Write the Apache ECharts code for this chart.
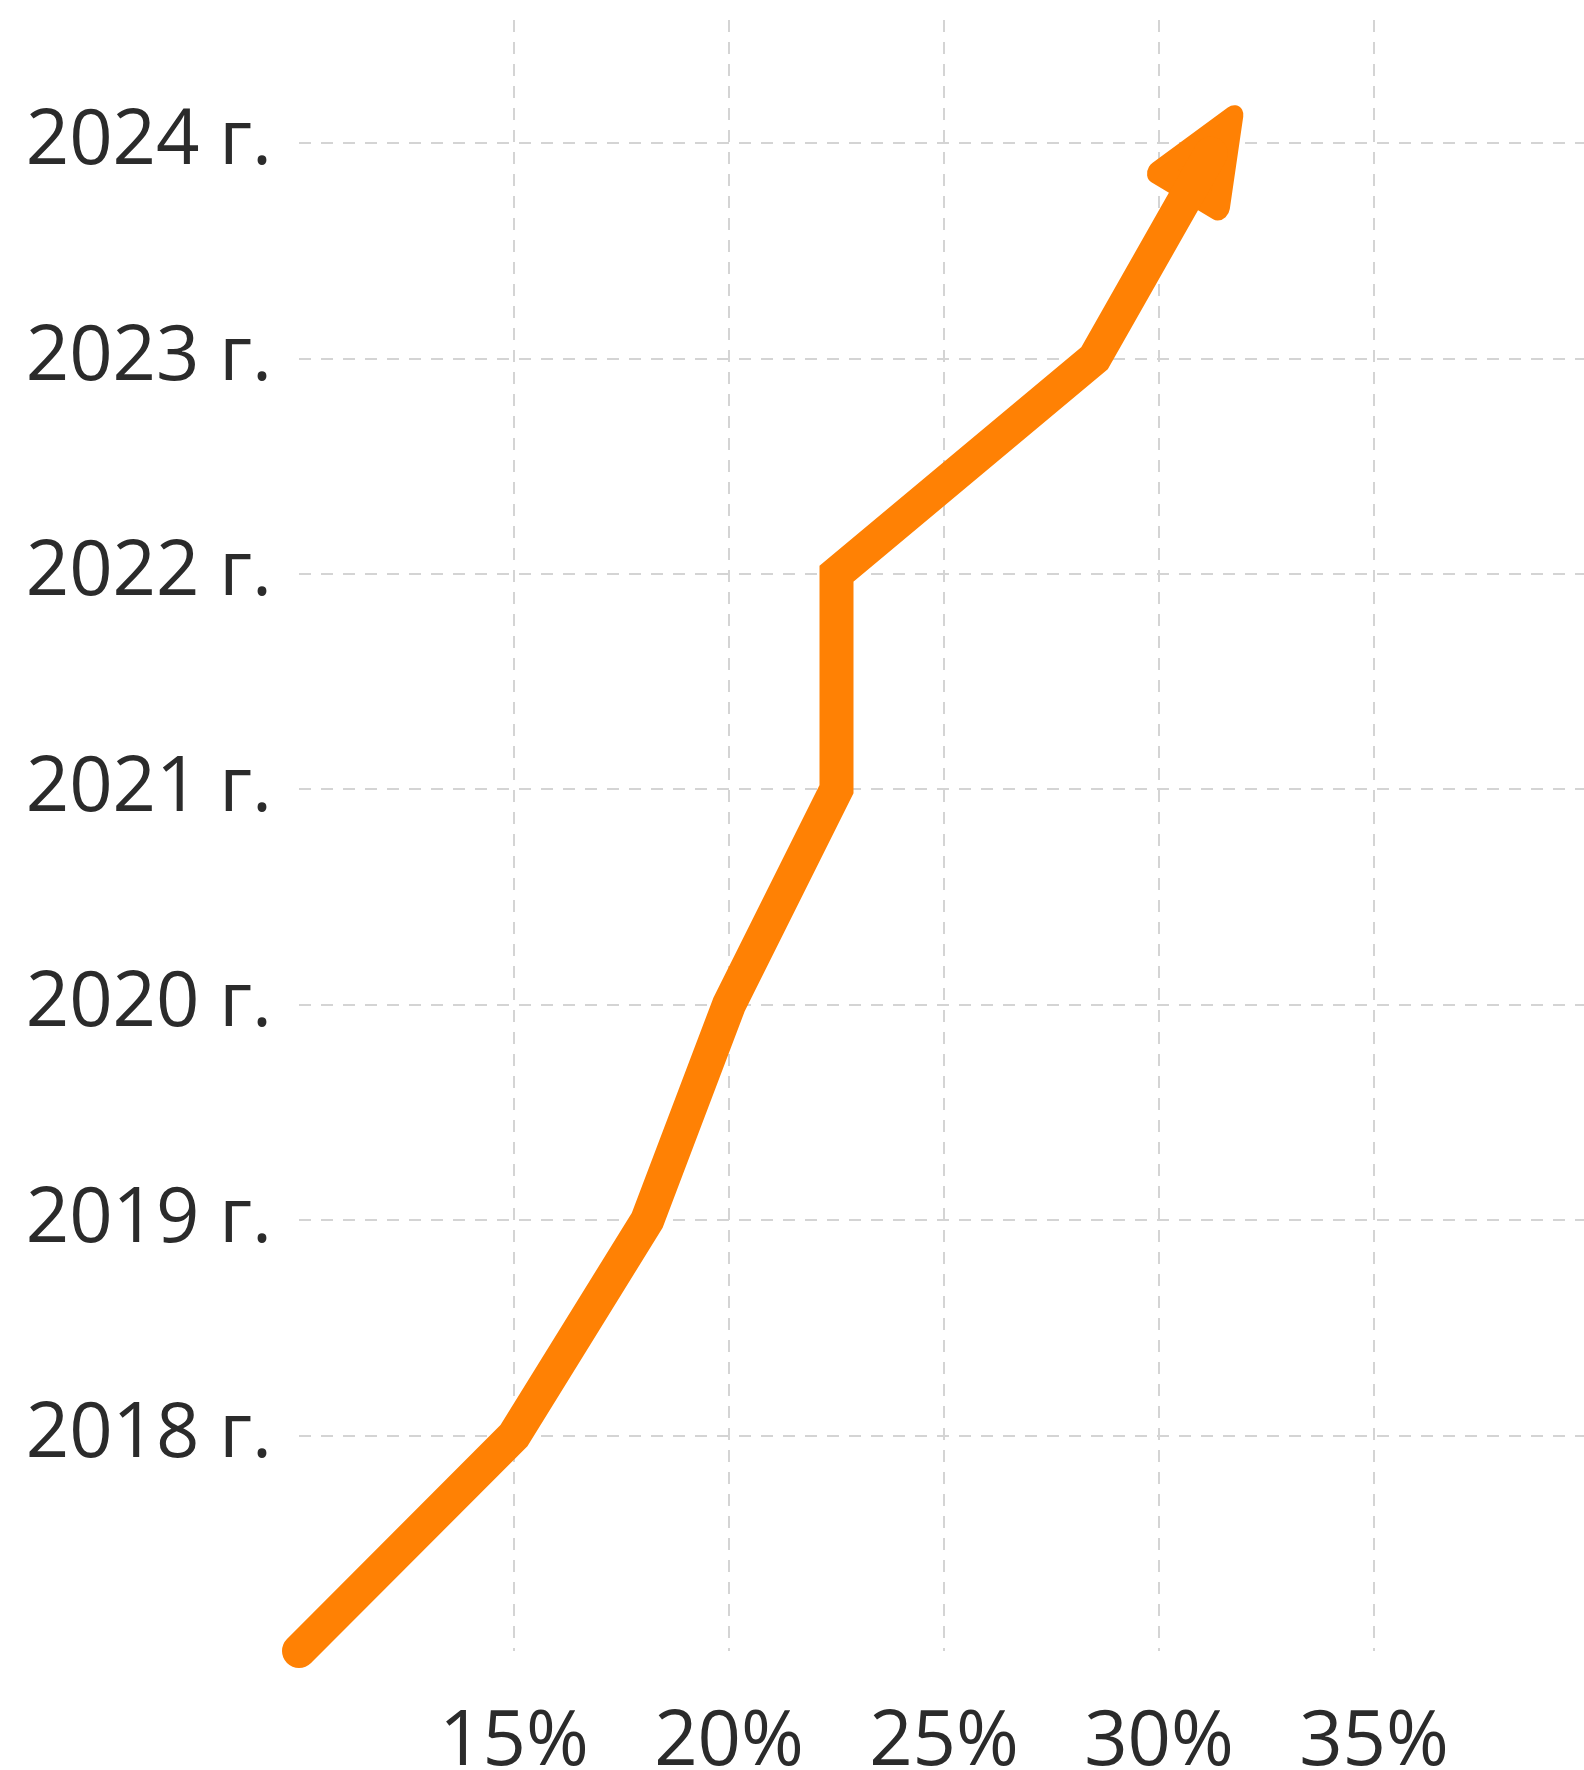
<!DOCTYPE html>
<html>
<head>
<meta charset="utf-8">
<script src="https://cdn.jsdelivr.net/npm/echarts@6/dist/echarts.min.js"></script>
<style>
  html, body { margin: 0; padding: 0; background: #fff; }
  #container { width: 1584px; height: 1770px; }
</style>
</head>
<body>
<div id="container"></div>
<script>
// share, % (x) by year (y); first point is the unlabeled start
var shareValues = [10, 15, 18.1, 20, 22.5, 22.5, 28.5, 31.2];
var yearValues = [2017, 2018, 2019, 2020, 2021, 2022, 2023, 2023.95];
var yearTicks = [2018, 2019, 2020, 2021, 2022, 2023, 2024];
var shareTicks = [15, 20, 25, 30, 35];

var lineData = [];
for (var i = 0; i < shareValues.length; i++) {
    lineData.push([shareValues[i], yearValues[i]]);
}
var last = lineData[lineData.length - 1];

var orange = '#ff8104';
var textColor = '#2b2b2b';
var gridColor = '#d4d4d4';

var dom = document.getElementById('container');
var myChart = echarts.init(dom);
var option = {
    animation: false,
    backgroundColor: '#ffffff',
    grid: { left: 299, top: 20, width: 1290, height: 1631, outerBoundsMode: 'none' },
    xAxis: {
        type: 'value',
        min: 10,
        max: 40,
        interval: 5,
        axisLine: { show: false },
        axisTick: { show: false },
        axisLabel: {
            margin: 54,
            fontFamily: 'Open Sans',
            fontSize: 76,
            color: textColor,
            formatter: function (v) {
                return shareTicks.indexOf(v) >= 0 ? v + '%' : '';
            }
        },
        splitLine: {
            show: true,
            showMinLine: false,
            showMaxLine: false,
            lineStyle: { color: gridColor, width: 2, type: [12, 10] }
        }
    },
    yAxis: {
        type: 'value',
        min: 2017,
        max: 2024.57,
        interval: 1,
        axisLine: { show: false },
        axisTick: { show: false },
        axisLabel: {
            margin: 27,
            fontFamily: 'Open Sans',
            fontSize: 76,
            color: textColor,
            formatter: function (v) {
                return yearTicks.indexOf(v) >= 0 ? v + ' г.' : '';
            }
        },
        splitLine: {
            show: true,
            showMinLine: false,
            showMaxLine: false,
            lineStyle: { color: gridColor, width: 2, type: [12, 10] }
        }
    },
    series: [{
        type: 'line',
        data: lineData,
        symbol: 'none',
        clip: false,
        lineStyle: { color: orange, width: 34, cap: 'round', join: 'miter' }
    }, {
        // arrow head on the last point
        type: 'scatter',
        data: [last],
        symbol: 'triangle',
        symbolSize: [72, 86],
        symbolRotate: -31,
        clip: false,
        itemStyle: {
            color: orange,
            opacity: 1,
            borderColor: orange,
            borderWidth: 22,
            borderJoin: 'round'
        }
    }]
};
myChart.setOption(option);
</script>
</body>
</html>
